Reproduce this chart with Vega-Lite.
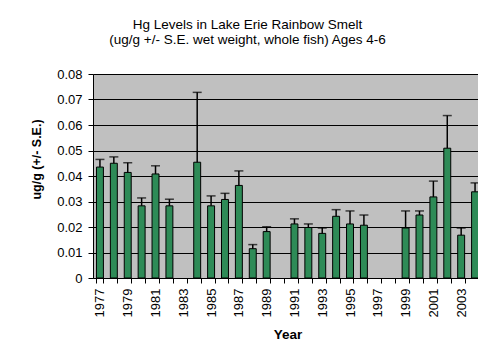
{
  "$schema": "https://vega.github.io/schema/vega-lite/v6.json",
  "autosize": "none",
  "padding": {"left": 93, "top": 74, "right": 0, "bottom": 70},
  "width": 385,
  "height": 204,
  "background": "white",
  "title": {
    "text": ["Hg Levels in Lake Erie Rainbow Smelt", "(ug/g +/- S.E. wet weight, whole fish) Ages 4-6"],
    "anchor": "middle",
    "dx": -38,
    "offset": 22,
    "fontSize": 13.5,
    "fontWeight": "normal",
    "font": "Liberation Sans",
    "color": "black",
    "lineHeight": 15
  },
  "config": {
    "view": {"fill": "#C0C0C0", "stroke": null}
  },
  "data": {
    "values": [
      {"Year": 1977, "Hg": 0.0435, "Upper": 0.0465},
      {"Year": 1978, "Hg": 0.045, "Upper": 0.0475},
      {"Year": 1979, "Hg": 0.0414, "Upper": 0.0452},
      {"Year": 1980, "Hg": 0.0283, "Upper": 0.0314},
      {"Year": 1981, "Hg": 0.0408, "Upper": 0.044},
      {"Year": 1982, "Hg": 0.0283, "Upper": 0.0309},
      {"Year": 1984, "Hg": 0.0454, "Upper": 0.0728},
      {"Year": 1985, "Hg": 0.0283, "Upper": 0.0322},
      {"Year": 1986, "Hg": 0.0308, "Upper": 0.0332},
      {"Year": 1987, "Hg": 0.0363, "Upper": 0.042},
      {"Year": 1988, "Hg": 0.0115, "Upper": 0.0131},
      {"Year": 1989, "Hg": 0.0182, "Upper": 0.0201},
      {"Year": 1991, "Hg": 0.0212, "Upper": 0.0232},
      {"Year": 1992, "Hg": 0.0198, "Upper": 0.0212},
      {"Year": 1993, "Hg": 0.0175, "Upper": 0.0196},
      {"Year": 1994, "Hg": 0.0242, "Upper": 0.0268},
      {"Year": 1995, "Hg": 0.0212, "Upper": 0.0263},
      {"Year": 1996, "Hg": 0.0207, "Upper": 0.0247},
      {"Year": 1999, "Hg": 0.0196, "Upper": 0.0263},
      {"Year": 2000, "Hg": 0.0247, "Upper": 0.0263},
      {"Year": 2001, "Hg": 0.0318, "Upper": 0.038},
      {"Year": 2002, "Hg": 0.0509, "Upper": 0.0637},
      {"Year": 2003, "Hg": 0.0168, "Upper": 0.0196},
      {"Year": 2004, "Hg": 0.0338, "Upper": 0.0373}
    ]
  },
  "encoding": {
    "x": {
      "field": "Year",
      "type": "ordinal",
      "scale": {
        "domain": [1977,1978,1979,1980,1981,1982,1983,1984,1985,1986,1987,1988,1989,1990,1991,1992,1993,1994,1995,1996,1997,1998,1999,2000,2001,2002,2003,2004],
        "range": [0, 389],
        "paddingInner": 0.5,
        "paddingOuter": 0.25
      },
      "axis": {
        "title": "Year",
        "titleFont": "Liberation Sans",
        "titleColor": "black",
        "titleFontSize": 13.5,
        "titleFontWeight": "bold",
        "titlePadding": 11,
        "labelFont": "Liberation Sans",
        "labelFontSize": 13,
        "labelColor": "black",
        "labelAngle": -90,
        "labelAlign": "right",
        "labelBaseline": "middle",
        "labelPadding": 5,
        "tickSize": 5,
        "tickColor": "black",
        "domainColor": "black",
        "tickBand": "extent",
        "labelExpr": "(datum.value - 1977) % 2 === 0 ? datum.label : ''",
        "grid": false
      }
    },
    "y": {
      "field": "Hg",
      "type": "quantitative",
      "scale": {"domain": [0, 0.08], "nice": false, "zero": true},
      "axis": {
        "title": "ug/g (+/- S.E.)",
        "titleFont": "Liberation Sans",
        "titleColor": "black",
        "titleFontSize": 12.5,
        "titleFontWeight": "bold",
        "titlePadding": 13,
        "titleY": 85,
        "values": [0, 0.01, 0.02, 0.03, 0.04, 0.05, 0.06, 0.07, 0.08],
        "labelFont": "Liberation Sans",
        "labelFontSize": 13,
        "labelColor": "black",
        "labelOverlap": false,
        "format": ".2~f",
        "labelPadding": 6,
        "tickSize": 5,
        "tickColor": "black",
        "domainColor": "black",
        "grid": true,
        "gridColor": "black",
        "gridOpacity": 1,
        "gridWidth": 1
      }
    }
  },
  "layer": [
    {
      "mark": {"type": "bar", "fill": "#2E8B57", "stroke": "black", "strokeWidth": 1}
    },
    {
      "mark": {"type": "rule", "color": "black", "strokeWidth": 1.5},
      "encoding": {
        "y2": {"field": "Upper"}
      }
    },
    {
      "mark": {"type": "tick", "color": "black", "size": 9, "thickness": 1.5, "orient": "horizontal"},
      "encoding": {
        "y": {"field": "Upper", "type": "quantitative"}
      }
    }
  ]
}
